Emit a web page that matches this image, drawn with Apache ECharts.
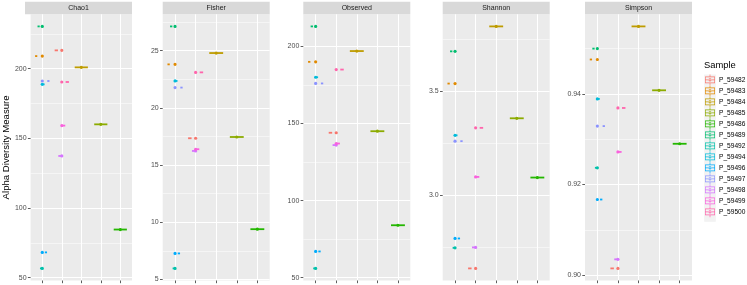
<!DOCTYPE html>
<html>
<head>
<meta charset="utf-8">
<script src="https://cdn.jsdelivr.net/npm/echarts@6/dist/echarts.min.js"></script>
<style>
  html, body { margin: 0; padding: 0; background: #fff; }
  #chart { width: 747px; height: 285px; }
</style>
</head>
<body>
<div id="chart"></div>
<script>
// samples and their x group (dodged within group like ggplot)
const samples = ['P_59482', 'P_59483', 'P_59484', 'P_59485', 'P_59486', 'P_59489', 'P_59492',
  'P_59494', 'P_59496', 'P_59497', 'P_59498', 'P_59499', 'P_59500'];
const sampleGroup = [2, 1, 3, 4, 5, 1, 1, 1, 1, 1, 2, 2, 2];
const groupTicks = [1, 2, 3, 4, 5];

const measures = ['Chao1', 'Fisher', 'Observed', 'Shannon', 'Simpson'];

const chao1 = [213.1, 209.0, 200.9, 160.0, 84.5, 230.3, 56.6, 188.7, 68.1, 191.1, 137.3, 159.1, 190.4];
const fisher = [17.34, 23.80, 24.79, 17.45, 9.39, 27.12, 5.96, 22.35, 7.27, 21.77, 16.23, 16.38, 23.10];
const observed = [144, 190, 197, 145, 84, 213, 56, 180, 67, 176, 136, 137, 185];
const shannon = [2.648, 3.537, 3.812, 3.370, 3.085, 3.692, 2.747, 3.288, 2.792, 3.260, 2.749, 3.088, 3.324];
const simpson = [0.9015, 0.9476, 0.9549, 0.9408, 0.9290, 0.9500, 0.9237, 0.9389, 0.9167, 0.9329, 0.9035, 0.9272, 0.9369];

const chao1Ticks = [50, 100, 150, 200];
const fisherTicks = [5, 10, 15, 20, 25];
const observedTicks = [50, 100, 150, 200];
const shannonTicks = [3.0, 3.5];
const simpsonTicks = [0.90, 0.92, 0.94];

const chao1Minor = [75, 125, 175, 225];
const fisherMinor = [7.5, 12.5, 17.5, 22.5, 27.5];
const observedMinor = [75, 125, 175];
const shannonMinor = [2.75, 3.25, 3.75];
const simpsonMinor = [0.91, 0.93, 0.95];

const labelDigits = [0, 0, 0, 1, 2];

const values = [chao1, fisher, observed, shannon, simpson];
const majors = [chao1Ticks, fisherTicks, observedTicks, shannonTicks, simpsonTicks];
const minors = [chao1Minor, fisherMinor, observedMinor, shannonMinor, simpsonMinor];

// ggplot hue_pal() for 13 levels
const colors = ['#F8766D', '#E18A00', '#BE9C00', '#8CAB00', '#24B700', '#00BE70', '#00C1AB',
  '#00BBDA', '#00ACFC', '#8B93FF', '#D575FE', '#F962DD', '#FF65AC'];

const FONT = 'Liberation Sans, Arial, sans-serif';
const panelLeft = [25, 162.7, 303.3, 442.7, 585];
const panelWidth = 107;
const stripTop = 1.7;
const panelTop = 14.3;
const panelBottom = 280.5;

const legendLeft = 705;
const legendTop = 74.5;
const keySize = 11.33;

// dodge offsets within each group (total width 0.75, 10% padding)
function dodge(i) {
  const members = samples.map((s, k) => k).filter(k => sampleGroup[k] === sampleGroup[i]);
  const n = members.length;
  const k = members.indexOf(i);
  const slot = 0.75 / n;
  return { off: (k - (n - 1) / 2) * slot, w: slot * 0.9 };
}

const grids = [], xAxes = [], yAxes = [], series = [], graphics = [];

measures.forEach((m, p) => {
  const vals = values[p];
  const lo = Math.min(...vals), hi = Math.max(...vals);
  const pad = (hi - lo) * 0.05;

  grids.push({
    left: panelLeft[p], top: panelTop, width: panelWidth, height: panelBottom - panelTop,
    show: true, backgroundColor: '#EBEBEB', borderWidth: 0
  });

  xAxes.push({
    type: 'value', gridIndex: p, min: 0.4, max: 5.6,
    axisLine: { show: false },
    axisTick: { show: true, customValues: groupTicks, length: 2.7, lineStyle: { color: '#333', width: 0.8 } },
    axisLabel: { show: false },
    splitLine: { show: true, lineStyle: { color: '#fff', width: 1 } }
  });

  yAxes.push({
    type: 'value', gridIndex: p, min: lo - pad, max: hi + pad,
    name: p === 0 ? 'Alpha Diversity Measure' : '',
    nameLocation: 'middle', nameGap: 15,
    nameTextStyle: { fontFamily: FONT, fontSize: 9.6, color: '#000' },
    axisLine: { show: false },
    axisTick: { show: true, customValues: majors[p], length: 2.7, lineStyle: { color: '#333', width: 0.8 } },
    axisLabel: {
      customValues: majors[p], margin: 4, fontFamily: FONT, fontSize: 7, color: '#4D4D4D',
      formatter: v => Number(v).toFixed(labelDigits[p])
    },
    splitLine: { show: true, lineStyle: { color: '#fff', width: 1 } }
  });
  yAxes.push({
    type: 'value', gridIndex: p, min: lo - pad, max: hi + pad,
    axisLine: { show: false },
    axisTick: { show: false, customValues: minors[p] },
    axisLabel: { show: false },
    splitLine: { show: true, lineStyle: { color: '#fff', width: 0.5 } }
  });

  graphics.push({
    type: 'rect', silent: true,
    shape: { x: panelLeft[p], y: stripTop, width: panelWidth, height: panelTop - stripTop },
    style: { fill: '#D9D9D9' }
  });
  graphics.push({
    type: 'text', silent: true,
    x: panelLeft[p] + panelWidth / 2, y: (stripTop + panelTop) / 2 + 0.3,
    style: { text: m, fontFamily: FONT, fontSize: 7, fill: '#1A1A1A', textAlign: 'center', textVerticalAlign: 'middle' }
  });

  samples.forEach((s, i) => {
    const d = dodge(i);
    const color = colors[i];
    series.push({
      type: 'custom', name: s, xAxisIndex: p, yAxisIndex: p * 2,
      itemStyle: { color },
      data: [[sampleGroup[i], vals[i]]],
      renderItem: (params, api) => {
        const g = api.value(0), v = api.value(1);
        const c = api.coord([g, v]);
        const l = api.coord([g + d.off - d.w / 2, v]);
        const r = api.coord([g + d.off + d.w / 2, v]);
        return {
          type: 'group',
          children: [
            { type: 'line', shape: { x1: l[0], y1: l[1], x2: r[0], y2: r[1] }, style: { stroke: color, lineWidth: 1.8 } },
            { type: 'circle', shape: { cx: c[0], cy: c[1], r: 1.6 }, style: { fill: color } }
          ]
        };
      }
    });
  });
});

// light key backgrounds behind the legend glyphs
samples.forEach((s, k) => {
  graphics.push({
    type: 'rect', silent: true, z: -1,
    shape: { x: legendLeft - 0.8, y: legendTop + k * keySize, width: 11.6, height: keySize },
    style: { fill: '#F2F2F2' }
  });
});

// boxplot legend key: whiskers, box outline, median and point
const boxIcon = 'path://M9.5 2H10.5V5H9.5Z M2.5 5H17.5V15H2.5Z M3.5 6V14H16.5V6Z M2.5 9.5H17.5V10.5H2.5Z M9.5 15H10.5V18H9.5Z M7.5 10A2.5 2.5 0 1 0 12.5 10A2.5 2.5 0 1 0 7.5 10Z';

const chart = echarts.init(document.getElementById('chart'), null, { renderer: 'canvas' });
chart.setOption({
  animation: false,
  title: {
    text: 'Sample', left: 704, top: 61, padding: 0,
    textStyle: { fontFamily: FONT, fontSize: 9.4, fontWeight: 'normal', color: '#000' }
  },
  legend: {
    orient: 'vertical', left: legendLeft, top: legendTop, padding: 0,
    itemWidth: 10, itemHeight: 11, itemGap: 0.33,
    icon: boxIcon, selectedMode: false,
    textStyle: { fontFamily: FONT, fontSize: 6.6, color: '#000', padding: [0, 0, 0, -1] },
    data: samples
  },
  grid: grids,
  xAxis: xAxes,
  yAxis: yAxes,
  series: series,
  graphic: graphics
});
</script>
</body>
</html>
